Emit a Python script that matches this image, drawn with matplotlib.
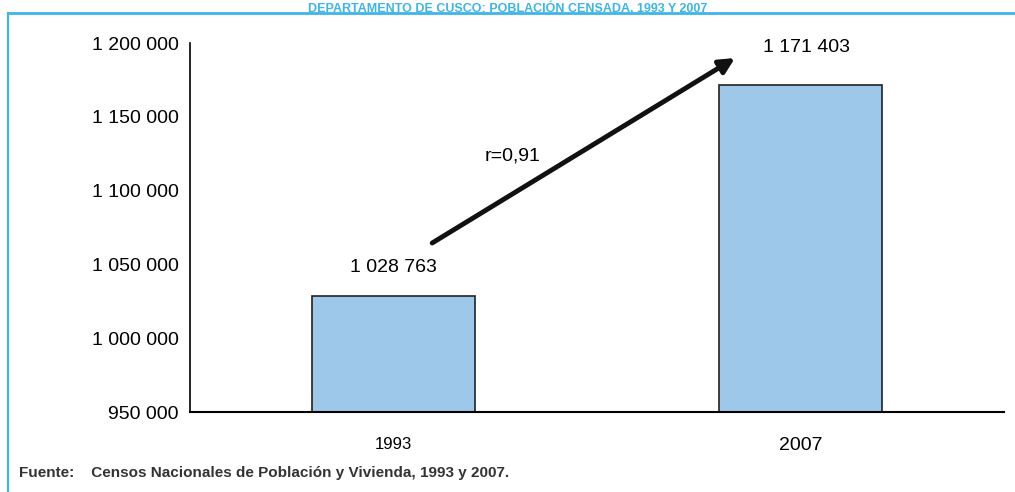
# Poblacion censada Cusco 1993 y 2007
import matplotlib.pyplot as plt
from matplotlib.lines import Line2D

years = ['1993', '2007']
population = [1028763, 1171403]
value_labels = ['1 028 763', '1 171 403']
yticks = [950000, 1000000, 1050000, 1100000, 1150000, 1200000]
ytick_labels = ['950 000', '1 000 000', '1 050 000', '1 100 000', '1 150 000', '1 200 000']

plt.rcParams['font.family'] = ['Liberation Sans Narrow', 'Liberation Sans', 'DejaVu Sans']

fig = plt.figure(figsize=(10.15, 4.92), dpi=100)
ax = fig.add_axes([190 / 1015, 80 / 492, 814 / 1015, 369 / 492])

ax.bar(range(len(years)), population, width=0.4, color='#9DC8EA',
       edgecolor='#222222', linewidth=1.2)
ax.set_xlim(-0.5, 1.5)
ax.set_ylim(950000, 1200000)
ax.set_yticks(yticks)
ax.set_yticklabels(ytick_labels, fontsize=14)
ax.set_xticks(range(len(years)))
ax.set_xticklabels(years)
ax.get_xticklabels()[0].set_fontsize(12)
ax.get_xticklabels()[1].set_fontsize(14)
ax.tick_params(axis='both', length=0)
ax.tick_params(axis='y', pad=8)
ax.tick_params(axis='x', pad=18)
for s in ['top', 'right']:
    ax.spines[s].set_visible(False)
ax.spines['left'].set_linewidth(1.2)
ax.spines['bottom'].set_linewidth(1.5)

ax.text(0, 1042000, value_labels[0], ha='center', va='bottom', fontsize=14)
ax.text(1.015, 1191500, value_labels[1], ha='center', va='bottom', fontsize=14)

ax.annotate('', xy=(0.839, 1189800), xytext=(0.095, 1064500),
            arrowprops=dict(arrowstyle='-|>,head_length=0.9,head_width=0.45',
                            color='#111111', lw=3.5, shrinkA=0, shrinkB=0))
ax.text(0.2936, 1123400, 'r=0,91', ha='center', va='center', fontsize=14)

# marco cian
cyan = '#3DB5E6'
fig.add_artist(Line2D([8 / 1015, 1], [1 - 13 / 492] * 2, color=cyan, lw=2))
fig.add_artist(Line2D([8 / 1015] * 2, [0, 1 - 13 / 492], color=cyan, lw=1.5))

fig.text(508 / 1015, 1 - 1 / 492, 'DEPARTAMENTO DE CUSCO: POBLACIÓN CENSADA, 1993 Y 2007',
         ha='center', va='top', fontsize=9, fontweight='bold', color=cyan)
fig.text(19 / 1015, 1 - 473 / 492,
         'Fuente:    Censos Nacionales de Población y Vivienda, 1993 y 2007.',
         ha='left', va='center', fontsize=11, fontweight='bold', color='#333333')

fig.savefig('out.png', dpi=100)
